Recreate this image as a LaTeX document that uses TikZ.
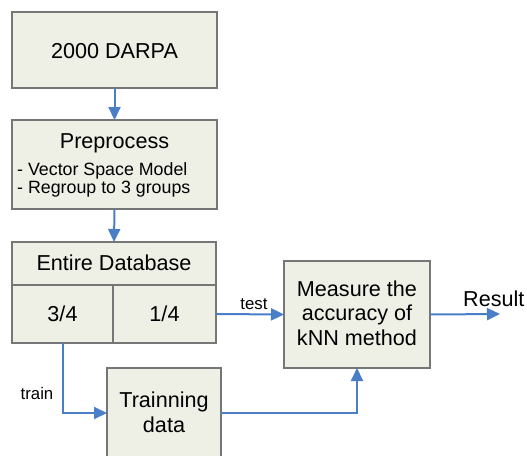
\documentclass[tikz,border=0pt]{standalone}
\usepackage{fontspec}
\setmainfont{Liberation Sans}
\usetikzlibrary{arrows.meta}
\definecolor{boxfill}{HTML}{EEF0E6}
\definecolor{boxline}{HTML}{767676}
\definecolor{arrowblue}{HTML}{4A7EC7}
\tikzset{
  box/.style={draw=boxline, fill=boxfill, line width=1.6pt, rectangle, inner sep=0pt, outer sep=0pt},
  big/.style={font=\fontsize{21.6}{25}\selectfont},
  mid/.style={font=\fontsize{17.8}{19}\selectfont},
  small/.style={font=\fontsize{16.8}{19}\selectfont},
  conn/.style={draw=arrowblue, line width=2pt, -{Triangle[length=13pt,width=12pt]}},
  lbl/.style={inner sep=0pt, anchor=base},
}
\begin{document}
\begin{tikzpicture}[x=1pt,y=-1pt]
\useasboundingbox (0,0) rectangle (527,455);
\clip (0,0) rectangle (527,455);
% boxes
\node[box, minimum width=205pt, minimum height=76pt] (darpa) at (114.5,50) {};
\node[box, minimum width=205pt, minimum height=89pt] (pre) at (114.5,164.5) {};
\node[box, minimum width=204pt, minimum height=43pt] (dbtop) at (114,263.5) {};
\node[box, minimum width=101pt, minimum height=58pt] (dbl) at (62.5,314) {};
\node[box, minimum width=103pt, minimum height=58pt] (dbr) at (164.5,314) {};
\node[box, minimum width=146pt, minimum height=107pt] (meas) at (357,314.5) {};
\node[box, minimum width=114pt, minimum height=90pt] (train) at (164,413) {};
% texts
\node[lbl, big] (t1) at (114.5,58) {2000 DARPA};
\node[lbl, big] (t2) at (114.5,148) {Preprocess};
\node[lbl, mid, anchor=base west] (t3) at (17,175) {- Vector Space Model};
\node[lbl, mid, anchor=base west] (t4) at (17,193.5) {- Regroup to 3 groups};
\node[lbl, big] (t5) at (114,270) {Entire Database};
\node[lbl, big] (t6) at (62.5,321) {3/4};
\node[lbl, big] (t7) at (164.5,321) {1/4};
\node[lbl, big] (t8) at (357,296) {Measure the};
\node[lbl, big] (t9) at (357,320.5) {accuracy of};
\node[lbl, big] (t10) at (357,345) {kNN method};
\node[lbl, big] (t11) at (164,407) {Trainning};
\node[lbl, big] (t12) at (164,432) {data};
\node[lbl, small] (test) at (254,309) {test};
\node[lbl, small] (trainlbl) at (37,399) {train};
\node[lbl, big, anchor=base west] (res) at (463,306) {Result};
% connectors
\coordinate (out) at (500,314);
\draw[conn] (darpa.south) -- (pre.north);
\draw[conn] (pre.south) -- (dbtop.north);
\draw[conn] (dbr.east) -- (meas.west);
\draw[conn] (meas.east) -- (out);
\draw[conn] (dbl.south) |- (train.west);
\draw[conn] (train.east) -| (meas.south);
\end{tikzpicture}
\end{document}
